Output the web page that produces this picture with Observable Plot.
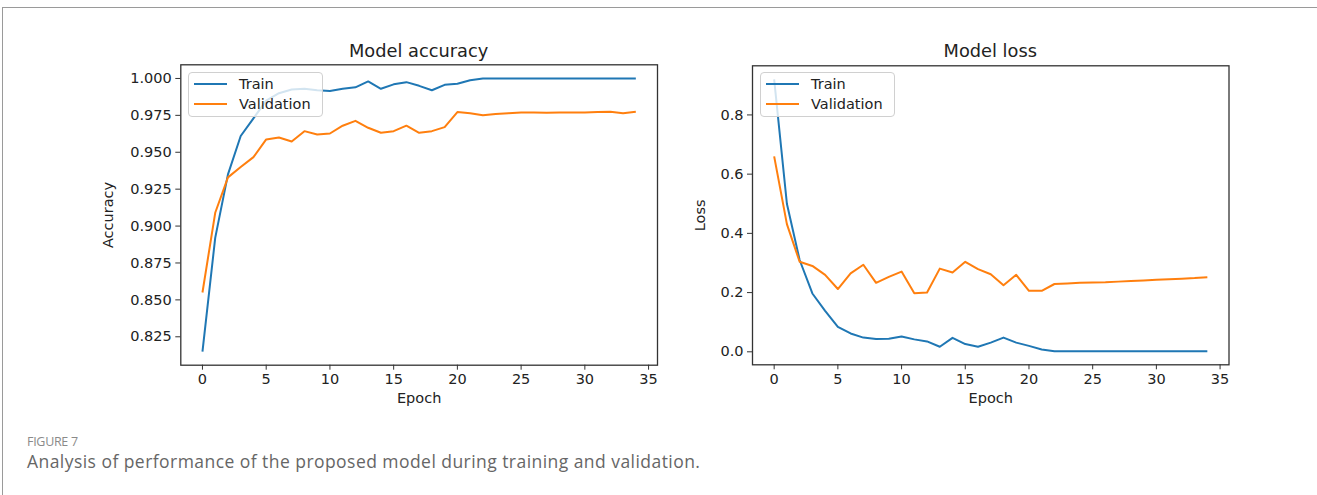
<!DOCTYPE html>
<html>
<head>
<meta charset="utf-8">
<script src="https://cdn.jsdelivr.net/npm/d3@7"></script>
<script src="https://cdn.jsdelivr.net/npm/@observablehq/plot@0.6"></script>
<style>
  html, body { margin: 0; padding: 0; background: #fff; }
  body { width: 1317px; height: 495px; position: relative; overflow: hidden; font-family: "DejaVu Sans", sans-serif; }
  #border { position: absolute; left: 2px; top: 7px; right: -10px; bottom: -10px; border-left: 1.5px solid #9a9a9a; border-top: 1.5px solid #9a9a9a; }
  .chart { position: absolute; top: 0; }
  .title { position: absolute; font-family: "DejaVu Sans", sans-serif; font-size: 17.8px; color: #222; transform: translate(-50%, 0); white-space: nowrap; }
  .legend { position: absolute; border: 1px solid #d0d0d0; border-radius: 4px; background: rgba(255,255,255,0.8); box-sizing: border-box; font-family: "DejaVu Sans", sans-serif; font-size: 14.5px; color: #222; }
  .legend .row { position: absolute; left: 0; display: flex; align-items: center; height: 20px; }
  .legend .sw { width: 33px; height: 2px; margin-left: 5px; margin-right: 12px; }
  #fig { position: absolute; left: 27px; top: 433px; font-family: "Open Sans", sans-serif; font-size: 12.5px; color: #8a8a8a; letter-spacing: -0.3px; }
  #cap { position: absolute; left: 27px; top: 449px; font-family: "Open Sans", sans-serif; font-size: 17.5px; color: #666; white-space: nowrap; letter-spacing: 0.45px; }
</style>
</head>
<body>
<div id="border"></div>
<div id="root"></div>
<div id="fig">FIGURE 7</div>
<div id="cap">Analysis of performance of the proposed model during training and validation.</div>
<script>
// ---- data ----
const seriesNames = ["Train", "Validation"];
const seriesColors = ["#1f77b4", "#ff7f0e"];
const xTicks = [0, 5, 10, 15, 20, 25, 30, 35];
const accTicks = [0.825, 0.850, 0.875, 0.900, 0.925, 0.950, 0.975, 1.000];
const lossTicks = [0.0, 0.2, 0.4, 0.6, 0.8];

const trainAcc = [0.815, 0.892, 0.935, 0.961, 0.973, 0.985, 0.990, 0.9925, 0.993, 0.992,
  0.9915, 0.993, 0.994, 0.998, 0.993, 0.996, 0.9975, 0.995, 0.992, 0.9957,
  0.9964, 0.9988, 1.0, 1.0, 1.0, 1.0, 1.0, 1.0, 1.0, 1.0,
  1.0, 1.0, 1.0, 1.0, 1.0];
const valAcc = [0.855, 0.909, 0.933, 0.940, 0.9467, 0.9587, 0.960, 0.9573, 0.9643, 0.962,
  0.9627, 0.968, 0.9713, 0.9666, 0.9632, 0.9643, 0.968, 0.9632, 0.9643, 0.967,
  0.9772, 0.9765, 0.975, 0.976, 0.9765, 0.977, 0.977, 0.9768, 0.977, 0.977,
  0.977, 0.9772, 0.9775, 0.9765, 0.9775];
const trainLoss = [0.92, 0.50, 0.31, 0.197, 0.1385, 0.0845, 0.062, 0.048, 0.043, 0.044,
  0.052, 0.042, 0.035, 0.017, 0.047, 0.026, 0.017, 0.031, 0.048, 0.031,
  0.020, 0.008, 0.002, 0.002, 0.002, 0.002, 0.002, 0.002, 0.002, 0.002,
  0.002, 0.002, 0.002, 0.002, 0.002];
const valLoss = [0.66, 0.431, 0.304, 0.29, 0.26, 0.212, 0.265, 0.294, 0.233, 0.253,
  0.271, 0.198, 0.200, 0.281, 0.268, 0.304, 0.279, 0.262, 0.225, 0.26,
  0.206, 0.206, 0.229, 0.231, 0.233, 0.234, 0.235, 0.237, 0.239, 0.241,
  0.243, 0.245, 0.247, 0.249, 0.252];

// ---- helpers ----
function rowsOf(a, b) {
  const rows = [];
  a.forEach((v, i) => rows.push({epoch: i, value: v, series: seriesNames[0]}));
  b.forEach((v, i) => rows.push({epoch: i, value: v, series: seriesNames[1]}));
  return rows;
}
function padded(values, frac) {
  const [lo, hi] = d3.extent(values);
  const p = (hi - lo) * frac;
  return [lo - p, hi + p];
}
const H = 420;

function makeChart(opts) {
  const rows = rowsOf(opts.a, opts.b);
  const xDom = padded(opts.a.map((_, i) => i), 0.05);
  const yDom = padded(opts.a.concat(opts.b), 0.05);
  const chart = Plot.plot({
    width: opts.width,
    height: H,
    marginLeft: opts.ml,
    marginRight: opts.mr,
    marginTop: opts.mt,
    marginBottom: opts.mb,
    style: {fontFamily: "DejaVu Sans", fontSize: "14.5px", color: "#222", background: "transparent", overflow: "visible"},
    x: {domain: xDom},
    y: {domain: yDom},
    color: {domain: seriesNames, range: seriesColors},
    marks: [
      Plot.line(rows, {x: "epoch", y: "value", stroke: "series", strokeWidth: 2, strokeLinejoin: "round", strokeLinecap: "butt"}),
      Plot.frame({stroke: "#333", strokeWidth: 1.3}),
      Plot.axisX({ticks: xTicks, tickSize: 5, tickPadding: 4, tickFormat: d3.format("d"), label: "Epoch", labelAnchor: "center", labelArrow: "none", labelOffset: 38, stroke: "#333"}),
      Plot.axisY({ticks: opts.yTicks, tickSize: 5, tickPadding: 4, tickFormat: d3.format(opts.fmt), label: opts.ylabel, labelAnchor: "center", labelArrow: "none", labelOffset: opts.yOff, stroke: "#333"})
    ]
  });
  const wrap = document.createElement("div");
  wrap.className = "chart";
  wrap.style.left = opts.left + "px";
  wrap.appendChild(chart);
  document.getElementById("root").appendChild(wrap);

  const t = document.createElement("div");
  t.className = "title";
  t.textContent = opts.title;
  t.style.left = (opts.left + opts.ml + (opts.width - opts.ml - opts.mr) / 2) + "px";
  t.style.top = "40px";
  document.body.appendChild(t);

  const lg = document.createElement("div");
  lg.className = "legend";
  lg.style.left = opts.lgLeft + "px";
  lg.style.top = "72px";
  lg.style.width = opts.lgW + "px";
  lg.style.height = "45px";
  seriesNames.forEach((name, i) => {
    const r = document.createElement("div");
    r.className = "row";
    r.style.top = (1 + i * 20) + "px";
    const sw = document.createElement("div");
    sw.className = "sw";
    sw.style.background = seriesColors[i];
    const tx = document.createElement("span");
    tx.textContent = name;
    r.appendChild(sw); r.appendChild(tx);
    lg.appendChild(r);
  });
  document.body.appendChild(lg);
}

makeChart({a: trainAcc, b: valAcc, yTicks: accTicks, fmt: ".3f", ylabel: "Accuracy", yOff: 78,
  left: 0, width: 660, ml: 180.3, mr: 3, mt: 64.3, mb: H - 364.7, title: "Model accuracy", lgLeft: 188, lgW: 135});
makeChart({a: trainLoss, b: valLoss, yTicks: lossTicks, fmt: ".1f", ylabel: "Loss", yOff: 58,
  left: 660, width: 657, ml: 92, mr: 88.5, mt: 65.3, mb: H - 364.3, title: "Model loss", lgLeft: 760, lgW: 135});
</script>
</body>
</html>
